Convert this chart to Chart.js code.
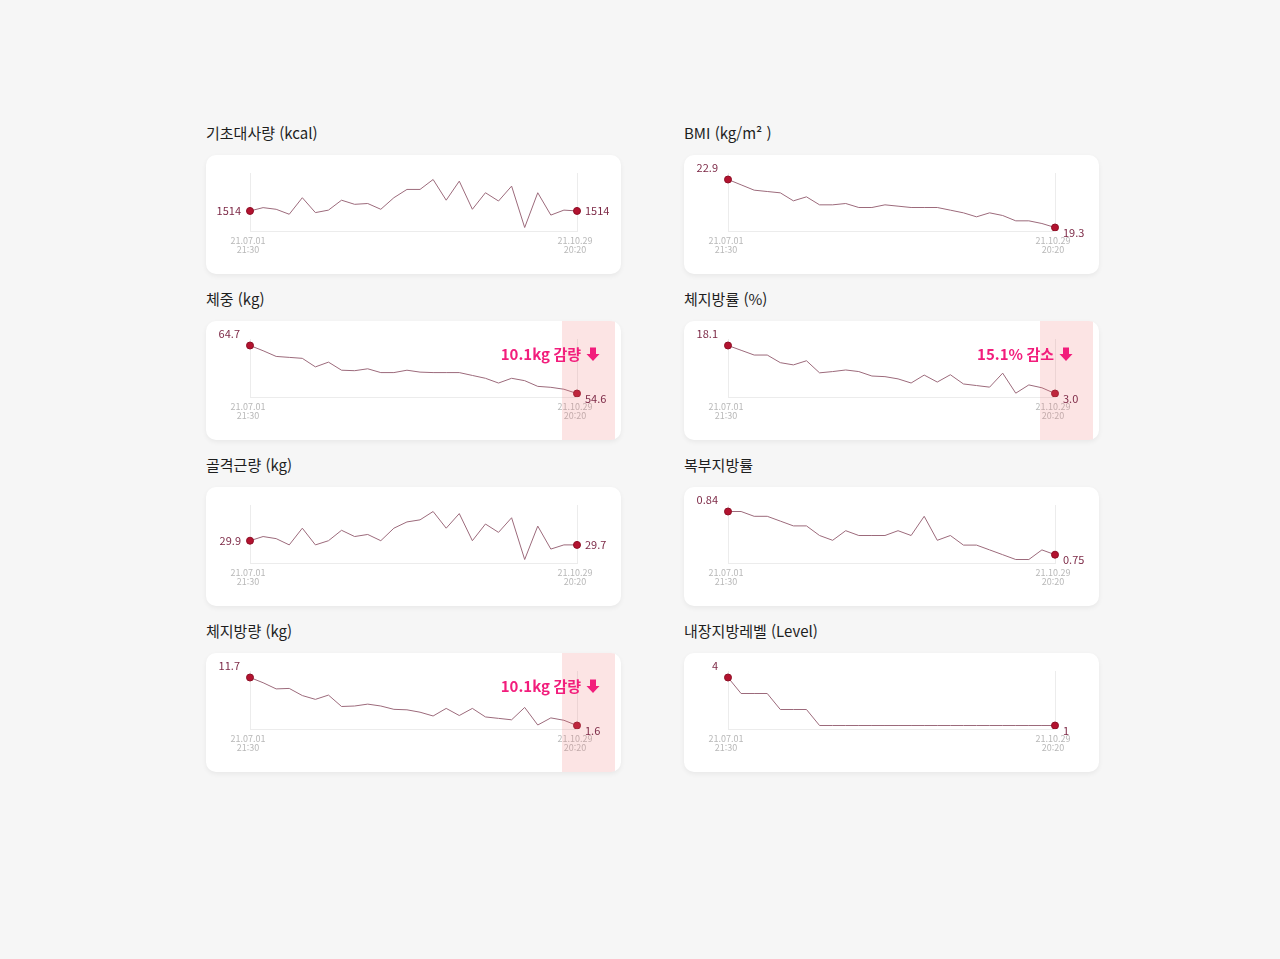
<!DOCTYPE html>
<html lang="ko">
<head>
<meta charset="utf-8">
<title>체성분 추이</title>
<script src="https://cdn.jsdelivr.net/npm/chart.js@4.4.1/dist/chart.umd.min.js"></script>
<style>
  html, body { margin: 0; padding: 0; background: #f6f6f6; }
  body { width: 1280px; height: 959px; position: relative; overflow: hidden; font-family: 'Noto Sans CJK KR', 'Noto Sans', sans-serif; }
  .title { position: absolute; font-size: 15px; color: #1e1e1e; line-height: 22px; white-space: nowrap; }
  .card { position: absolute; width: 415px; height: 119px; background: #fff; border-radius: 10px; box-shadow: 0 2px 5px rgba(0,0,0,0.06); overflow: hidden; }
  .card canvas { display: block; }
</style>
</head>
<body>
<div id="board"></div>
<script>
// first / last measurement time shown under the axis
const startTick = ["21.07.01", "21:30"];
const endTick = ["21.10.29", "20:20"];

const titles = [
  "기초대사량 (kcal)", "BMI (kg/m² )",
  "체중 (kg)", "체지방률 (%)",
  "골격근량 (kg)", "복부지방률",
  "체지방량 (kg)", "내장지방레벨 (Level)"
];

const bmrKcal = [1514, 1518, 1516, 1510, 1530, 1512, 1515, 1527, 1522, 1523, 1516, 1530, 1540,
  1540, 1552, 1527, 1550, 1516, 1536, 1526, 1544, 1494, 1536, 1509, 1515, 1514];
const bmiValues = [22.9, 22.5, 22.1, 22.0, 21.9, 21.3, 21.6, 21.0, 21.0, 21.1, 20.8, 20.8, 21.0,
  20.9, 20.8, 20.8, 20.8, 20.6, 20.4, 20.1, 20.4, 20.2, 19.8, 19.8, 19.6, 19.3];
const weightKg = [64.7, 63.6, 62.4, 62.2, 62.0, 60.2, 61.2, 59.5, 59.4, 59.8, 59.0, 59.0, 59.5,
  59.1, 59.0, 59.0, 59.0, 58.4, 57.8, 56.8, 57.8, 57.3, 56.1, 55.9, 55.5, 54.6];
const bodyFatPct = [18.1, 16.6, 15.1, 15.1, 12.7, 12.0, 13.3, 9.5, 9.9, 10.4, 9.9, 8.5, 8.3,
  7.6, 6.3, 8.8, 6.6, 8.9, 6.0, 5.5, 5.0, 9.4, 3.1, 5.7, 4.8, 3.0];
const muscleKg = [29.9, 30.1, 30.0, 29.7, 30.5, 29.7, 29.9, 30.4, 30.1, 30.2, 29.9, 30.5, 30.8,
  30.9, 31.3, 30.5, 31.2, 29.9, 30.7, 30.3, 31.0, 29.0, 30.6, 29.5, 29.7, 29.7];
const abdominalFat = [0.84, 0.84, 0.83, 0.83, 0.82, 0.81, 0.81, 0.79, 0.78, 0.80, 0.79, 0.79, 0.79,
  0.80, 0.79, 0.83, 0.78, 0.79, 0.77, 0.77, 0.76, 0.75, 0.74, 0.74, 0.76, 0.75];
const bodyFatKg = [11.7, 10.6, 9.3, 9.4, 7.9, 7.1, 8.0, 5.6, 5.7, 6.1, 5.7, 5.0, 4.9,
  4.4, 3.6, 5.2, 3.7, 5.2, 3.4, 3.1, 2.8, 5.4, 1.7, 3.2, 2.7, 1.6];
const visceralLevel = [4, 3, 3, 3, 2, 2, 2, 1, 1, 1, 1, 1, 1,
  1, 1, 1, 1, 1, 1, 1, 1, 1, 1, 1, 1, 1];

const seriesList = [bmrKcal, bmiValues, weightKg, bodyFatPct, muscleKg, abdominalFat, bodyFatKg, visceralLevel];
const decimals = [0, 1, 1, 1, 1, 2, 1, 0];
// "side" = labels beside the end points, "corner" = above-left / below-right
const labelModes = ["side", "corner", "corner", "corner", "side", "corner", "corner", "corner"];
const notes = [null, null, "10.1kg 감량", "15.1% 감소", null, null, "10.1kg 감량", null];

const colX = [206, 684];
const rowY = [155, 321, 487, 653];
const noteShift = [0, -5]; // right column note sits a bit further left
const FONT = "'Noto Sans CJK KR', 'Noto Sans', sans-serif";

Chart.defaults.font.family = FONT;

const endLabels = {
  id: "endLabels",
  afterDatasetsDraw(chart, args, opts) {
    const ctx = chart.ctx;
    const pts = chart.getDatasetMeta(0).data;
    const vals = chart.data.datasets[0].data;
    const first = pts[0], last = pts[pts.length - 1];
    ctx.save();

    if (opts.note) {
      const area = chart.chartArea;
      ctx.fillStyle = "rgba(240, 120, 120, 0.2)";
      ctx.fillRect(last.x - 15, 0, 53, chart.height);

      ctx.fillStyle = "#f21d7c";
      ctx.font = "bold 15px " + FONT;
      ctx.textAlign = "right";
      ctx.textBaseline = "middle";
      const ty = area.top + 15;
      const nx = last.x + opts.shift;
      ctx.fillText(opts.note, nx + 4, ty);
      // thick down arrow
      const ax = nx + 16;
      ctx.beginPath();
      ctx.moveTo(ax - 3, ty - 6.5);
      ctx.lineTo(ax + 3, ty - 6.5);
      ctx.lineTo(ax + 3, ty);
      ctx.lineTo(ax + 6.5, ty);
      ctx.lineTo(ax, ty + 7);
      ctx.lineTo(ax - 6.5, ty);
      ctx.lineTo(ax - 3, ty);
      ctx.closePath();
      ctx.fill();
    }

    ctx.fillStyle = "#7d2a47";
    ctx.font = "11px " + FONT;
    ctx.textBaseline = "middle";
    const a = vals[0].toFixed(opts.decimals);
    const b = vals[vals.length - 1].toFixed(opts.decimals);
    if (opts.mode === "side") {
      ctx.textAlign = "right";
      ctx.fillText(a, first.x - 9, first.y);
      ctx.textAlign = "left";
      ctx.fillText(b, last.x + 8, last.y);
    } else {
      ctx.textAlign = "right";
      ctx.fillText(a, first.x - 10, first.y - 12);
      ctx.textAlign = "left";
      ctx.fillText(b, last.x + 8, last.y + 5);
    }
    ctx.restore();
  }
};

function yRange(values) {
  const hi = Math.max(...values), lo = Math.min(...values), r = hi - lo;
  return { min: lo - r * 3.5 / 48, max: hi + r * 6.5 / 48 };
}

function makeCard(i) {
  const board = document.getElementById("board");
  const left = colX[i % 2], top = rowY[Math.floor(i / 2)];

  const title = document.createElement("div");
  title.className = "title";
  title.style.left = left + "px";
  title.style.top = (top - 33) + "px";
  title.textContent = titles[i];
  board.appendChild(title);

  const card = document.createElement("div");
  card.className = "card";
  card.style.left = left + "px";
  card.style.top = top + "px";
  const canvas = document.createElement("canvas");
  canvas.width = 415;
  canvas.height = 119;
  card.appendChild(canvas);
  board.appendChild(card);

  const values = seriesList[i];
  const lastIdx = values.length - 1;
  const range = yRange(values);

  new Chart(canvas, {
    type: "line",
    data: {
      labels: values.map((v, k) => k),
      datasets: [{
        data: values,
        borderColor: "#9c6a7b",
        borderWidth: 1,
        tension: 0,
        pointRadius: ctx => (ctx.dataIndex === 0 || ctx.dataIndex === lastIdx) ? 3.5 : 0,
        pointHoverRadius: 0,
        pointBackgroundColor: "#b3122f",
        pointBorderColor: "#8e0f26",
        pointBorderWidth: 1
      }]
    },
    options: {
      responsive: false,
      animation: false,
      events: [],
      layout: { padding: { left: 44, right: 44, top: 18, bottom: 0 } },
      plugins: {
        legend: { display: false },
        tooltip: { enabled: false },
        endLabels: { mode: labelModes[i], decimals: decimals[i], note: notes[i], shift: noteShift[i % 2] }
      },
      scales: {
        x: {
          type: "category",
          offset: false,
          afterFit(scale) { scale.height = 43; },
          grid: {
            drawTicks: false,
            lineWidth: 1,
            color: ctx => (ctx.index === 0 || ctx.index === lastIdx) ? "#ececec" : "rgba(0,0,0,0)"
          },
          border: { color: "#ececec" },
          ticks: {
            autoSkip: false,
            maxRotation: 0,
            padding: 5,
            labelOffset: -2,
            color: "#b8b8b8",
            font: { size: 9, lineHeight: 1 },
            callback: (v, k) => k === 0 ? startTick : (k === lastIdx ? endTick : "")
          }
        },
        y: { display: false, min: range.min, max: range.max }
      }
    },
    plugins: [endLabels]
  });
}

for (let i = 0; i < titles.length; i++) makeCard(i);
</script>
</body>
</html>
